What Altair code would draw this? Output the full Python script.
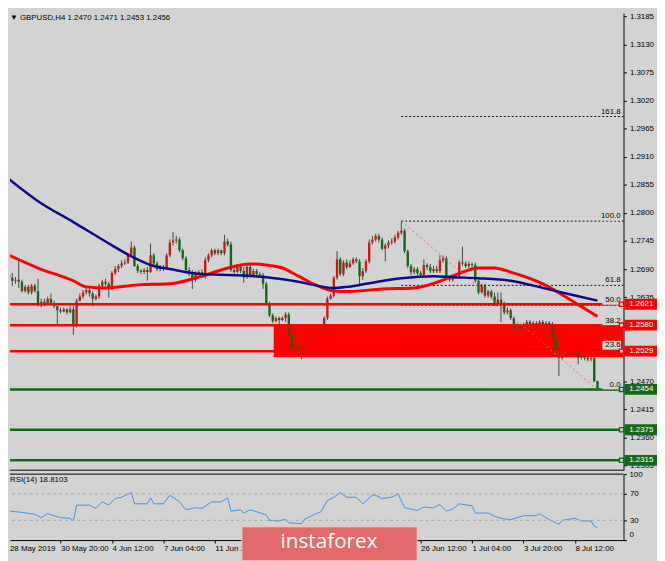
import altair as alt
import pandas as pd

# ---------------- data ----------------
opens = [
    1.2680, 1.2673, 1.2667, 1.2669, 1.2665, 1.2647, 1.2655, 1.2644, 1.2657, 1.2647,
    1.2619, 1.2626, 1.2621, 1.2632, 1.2622, 1.2617, 1.2609, 1.2607, 1.2611, 1.2605,
    1.2611, 1.2580, 1.2628, 1.2636, 1.2644, 1.2649, 1.2642, 1.2632, 1.2636, 1.2657,
    1.2665, 1.2661, 1.2653, 1.2682, 1.2690, 1.2696, 1.2701, 1.2703, 1.2717, 1.2732,
    1.2696, 1.2686, 1.2684, 1.2688, 1.2684, 1.2717, 1.2701, 1.2690, 1.2694, 1.2692,
    1.2717, 1.2742, 1.2746, 1.2748, 1.2727, 1.2711, 1.2688, 1.2682, 1.2669, 1.2682,
    1.2684, 1.2680, 1.2707, 1.2717, 1.2727, 1.2721, 1.2727, 1.2721, 1.2744, 1.2738,
    1.2688, 1.2684, 1.2694, 1.2686, 1.2674, 1.2694, 1.2676, 1.2686, 1.2680, 1.2678,
    1.2661, 1.2622, 1.2599, 1.2588, 1.2594, 1.2590, 1.2594, 1.2601, 1.2559, 1.2534,
    1.2540, 1.2534, 1.2524, 1.2528, 1.2549, 1.2557, 1.2563, 1.2565, 1.2568, 1.2594,
    1.2632, 1.2638, 1.2673, 1.2709, 1.2680, 1.2703, 1.2694, 1.2701, 1.2709, 1.2705,
    1.2676, 1.2686, 1.2705, 1.2742, 1.2748, 1.2755, 1.2748, 1.2730, 1.2736, 1.2742,
    1.2744, 1.2752, 1.2761, 1.2765, 1.2725, 1.2696, 1.2684, 1.2690, 1.2682, 1.2678,
    1.2698, 1.2694, 1.2686, 1.2690, 1.2686, 1.2707, 1.2711, 1.2674, 1.2669, 1.2674,
    1.2676, 1.2703, 1.2701, 1.2696, 1.2700, 1.2698, 1.2667, 1.2644, 1.2657, 1.2638,
    1.2646, 1.2636, 1.2621, 1.2630, 1.2622, 1.2605, 1.2609, 1.2594, 1.2572, 1.2578,
    1.2572, 1.2580, 1.2586, 1.2582, 1.2584, 1.2580, 1.2586, 1.2582, 1.2584, 1.2580,
    1.2555, 1.2524, 1.2516, 1.2524, 1.2528, 1.2524, 1.2532, 1.2528, 1.2516, 1.2520,
    1.2516, 1.2513, 1.2515, 1.2470,
]
highs = [
    1.2692, 1.2682, 1.2674, 1.2709, 1.2669, 1.2659, 1.2659, 1.2661, 1.2661, 1.2671,
    1.2632, 1.2632, 1.2636, 1.2642, 1.2628, 1.2622, 1.2615, 1.2615, 1.2613, 1.2617,
    1.2617, 1.2632, 1.2642, 1.2649, 1.2653, 1.2653, 1.2646, 1.2640, 1.2661, 1.2669,
    1.2671, 1.2665, 1.2686, 1.2696, 1.2700, 1.2707, 1.2709, 1.2721, 1.2744, 1.2736,
    1.2700, 1.2690, 1.2692, 1.2694, 1.2740, 1.2721, 1.2705, 1.2698, 1.2698, 1.2721,
    1.2748, 1.2763, 1.2755, 1.2752, 1.2730, 1.2715, 1.2694, 1.2688, 1.2686, 1.2688,
    1.2690, 1.2713, 1.2721, 1.2730, 1.2730, 1.2730, 1.2728, 1.2757, 1.2750, 1.2744,
    1.2694, 1.2698, 1.2698, 1.2694, 1.2698, 1.2700, 1.2690, 1.2690, 1.2684, 1.2682,
    1.2665, 1.2626, 1.2603, 1.2597, 1.2597, 1.2597, 1.2605, 1.2605, 1.2563, 1.2543,
    1.2543, 1.2540, 1.2536, 1.2553, 1.2561, 1.2567, 1.2568, 1.2572, 1.2597, 1.2636,
    1.2642, 1.2676, 1.2725, 1.2713, 1.2707, 1.2709, 1.2707, 1.2713, 1.2713, 1.2709,
    1.2692, 1.2709, 1.2748, 1.2755, 1.2759, 1.2759, 1.2752, 1.2740, 1.2746, 1.2750,
    1.2757, 1.2765, 1.2784, 1.2769, 1.2728, 1.2700, 1.2694, 1.2694, 1.2686, 1.2709,
    1.2701, 1.2700, 1.2696, 1.2696, 1.2717, 1.2717, 1.2715, 1.2678, 1.2680, 1.2682,
    1.2707, 1.2734, 1.2705, 1.2705, 1.2703, 1.2703, 1.2671, 1.2661, 1.2661, 1.2649,
    1.2649, 1.2644, 1.2644, 1.2644, 1.2626, 1.2615, 1.2613, 1.2597, 1.2584, 1.2582,
    1.2584, 1.2590, 1.2590, 1.2588, 1.2588, 1.2590, 1.2590, 1.2588, 1.2588, 1.2586,
    1.2559, 1.2530, 1.2528, 1.2532, 1.2534, 1.2538, 1.2538, 1.2534, 1.2524, 1.2522,
    1.2520, 1.2518, 1.2518, 1.2471,
]
lows = [
    1.2661, 1.2657, 1.2661, 1.2653, 1.2644, 1.2644, 1.2640, 1.2640, 1.2644, 1.2617,
    1.2615, 1.2617, 1.2619, 1.2619, 1.2613, 1.2580, 1.2603, 1.2605, 1.2601, 1.2603,
    1.2561, 1.2576, 1.2626, 1.2632, 1.2640, 1.2636, 1.2617, 1.2628, 1.2632, 1.2653,
    1.2657, 1.2634, 1.2649, 1.2678, 1.2684, 1.2692, 1.2698, 1.2700, 1.2713, 1.2694,
    1.2682, 1.2680, 1.2680, 1.2667, 1.2682, 1.2698, 1.2686, 1.2686, 1.2686, 1.2690,
    1.2713, 1.2736, 1.2740, 1.2723, 1.2707, 1.2684, 1.2676, 1.2651, 1.2665, 1.2678,
    1.2674, 1.2671, 1.2703, 1.2713, 1.2717, 1.2717, 1.2717, 1.2717, 1.2734, 1.2684,
    1.2680, 1.2682, 1.2682, 1.2663, 1.2671, 1.2673, 1.2673, 1.2674, 1.2674, 1.2651,
    1.2619, 1.2596, 1.2584, 1.2586, 1.2574, 1.2588, 1.2586, 1.2555, 1.2530, 1.2526,
    1.2530, 1.2513, 1.2520, 1.2522, 1.2545, 1.2553, 1.2557, 1.2559, 1.2565, 1.2590,
    1.2630, 1.2634, 1.2669, 1.2676, 1.2676, 1.2690, 1.2692, 1.2698, 1.2701, 1.2661,
    1.2669, 1.2682, 1.2701, 1.2738, 1.2744, 1.2742, 1.2727, 1.2705, 1.2730, 1.2738,
    1.2740, 1.2748, 1.2757, 1.2721, 1.2692, 1.2678, 1.2680, 1.2678, 1.2673, 1.2674,
    1.2688, 1.2682, 1.2682, 1.2682, 1.2682, 1.2703, 1.2671, 1.2665, 1.2665, 1.2671,
    1.2673, 1.2696, 1.2692, 1.2692, 1.2692, 1.2663, 1.2640, 1.2642, 1.2634, 1.2634,
    1.2632, 1.2617, 1.2617, 1.2586, 1.2601, 1.2601, 1.2590, 1.2555, 1.2568, 1.2567,
    1.2568, 1.2570, 1.2578, 1.2576, 1.2576, 1.2576, 1.2576, 1.2578, 1.2576, 1.2551,
    1.2520, 1.2480, 1.2513, 1.2518, 1.2520, 1.2520, 1.2522, 1.2503, 1.2513, 1.2511,
    1.2509, 1.2509, 1.2468, 1.2453,
]
closes = [
    1.2673, 1.2667, 1.2669, 1.2665, 1.2647, 1.2655, 1.2644, 1.2657, 1.2647, 1.2619,
    1.2626, 1.2621, 1.2632, 1.2622, 1.2617, 1.2609, 1.2607, 1.2611, 1.2605, 1.2611,
    1.2580, 1.2628, 1.2636, 1.2644, 1.2649, 1.2642, 1.2632, 1.2636, 1.2657, 1.2665,
    1.2661, 1.2653, 1.2682, 1.2690, 1.2696, 1.2701, 1.2703, 1.2717, 1.2732, 1.2696,
    1.2686, 1.2684, 1.2688, 1.2684, 1.2717, 1.2701, 1.2690, 1.2694, 1.2692, 1.2717,
    1.2742, 1.2746, 1.2748, 1.2727, 1.2711, 1.2688, 1.2682, 1.2669, 1.2682, 1.2684,
    1.2680, 1.2707, 1.2717, 1.2727, 1.2721, 1.2727, 1.2721, 1.2744, 1.2738, 1.2688,
    1.2684, 1.2694, 1.2686, 1.2674, 1.2694, 1.2676, 1.2686, 1.2680, 1.2678, 1.2661,
    1.2622, 1.2599, 1.2588, 1.2594, 1.2590, 1.2594, 1.2601, 1.2559, 1.2534, 1.2540,
    1.2534, 1.2524, 1.2528, 1.2549, 1.2557, 1.2563, 1.2565, 1.2568, 1.2594, 1.2632,
    1.2638, 1.2673, 1.2709, 1.2680, 1.2703, 1.2694, 1.2701, 1.2709, 1.2705, 1.2676,
    1.2686, 1.2705, 1.2742, 1.2748, 1.2755, 1.2748, 1.2730, 1.2736, 1.2742, 1.2744,
    1.2752, 1.2761, 1.2765, 1.2725, 1.2696, 1.2684, 1.2690, 1.2682, 1.2678, 1.2698,
    1.2694, 1.2686, 1.2690, 1.2686, 1.2707, 1.2711, 1.2674, 1.2669, 1.2674, 1.2676,
    1.2703, 1.2701, 1.2696, 1.2700, 1.2698, 1.2667, 1.2644, 1.2657, 1.2638, 1.2646,
    1.2636, 1.2621, 1.2630, 1.2622, 1.2605, 1.2609, 1.2594, 1.2572, 1.2578, 1.2572,
    1.2580, 1.2586, 1.2582, 1.2584, 1.2580, 1.2586, 1.2582, 1.2584, 1.2580, 1.2555,
    1.2524, 1.2516, 1.2524, 1.2528, 1.2524, 1.2532, 1.2528, 1.2516, 1.2520, 1.2516,
    1.2513, 1.2515, 1.2470, 1.2456,
]

blue_ma_idx = [0, 9, 20, 30, 38, 45, 50, 60, 70, 80, 90, 96, 101, 105, 111, 122,
               132, 138, 146, 156, 166, 176, 183]
blue_ma = [1.2866, 1.2823, 1.2782, 1.2744, 1.2715, 1.2696, 1.2690, 1.2680, 1.2678,
           1.2674, 1.2665, 1.2657, 1.2653, 1.2655, 1.2661, 1.2672, 1.2676, 1.2674,
           1.2672, 1.2667, 1.2653, 1.2638, 1.2628]

red_ma_idx = [0, 9, 20, 24, 30, 40, 50, 60, 68, 75, 80, 85, 90, 96, 101, 106, 116,
              126, 136, 141, 146, 151, 156, 166, 176, 183]
red_ma = [1.2717, 1.2692, 1.2667, 1.2655, 1.2653, 1.2659, 1.2661, 1.2676, 1.2692,
          1.2700, 1.2698, 1.2692, 1.2676, 1.2657, 1.2647, 1.2646, 1.2651, 1.2653,
          1.2671, 1.2684, 1.2692, 1.2692, 1.2684, 1.2661, 1.2624, 1.2597]

rsi_idx = [0, 4, 8, 10, 12, 16, 19, 20, 21, 25, 27, 29, 31, 33, 35, 38, 39, 43, 44,
           45, 48, 50, 53, 55, 58, 60, 63, 66, 68, 69, 72, 73, 75, 77, 80, 81, 84,
           86, 87, 91, 92, 95, 97, 99, 101, 103, 105, 108, 110, 113, 114, 116, 119,
           121, 123, 127, 129, 132, 134, 136, 138, 140, 144, 145, 149, 151, 154,
           156, 160, 164, 165, 168, 171, 172, 176, 178, 181, 182, 183]
rsi_vals = [44, 42, 39, 34, 40, 34, 33, 29, 53, 53, 48, 58, 53, 63, 65, 72, 55, 55,
            64, 55, 55, 68, 58, 46, 49, 48, 58, 58, 64, 44, 46, 41, 46, 43, 38, 30,
            29, 32, 26, 25, 32, 39, 43, 60, 65, 72, 65, 65, 55, 68, 68, 63, 65, 70,
            49, 45, 50, 49, 54, 44, 47, 55, 52, 41, 41, 36, 32, 31, 37, 37, 40, 31,
            24, 30, 33, 29, 29, 21, 18.81]
rsi_levels = [70, 30]

red_levels = [1.2621, 1.2580, 1.2529]
green_levels = [1.2454, 1.2375, 1.2315]

zone_start, zone_end = 82.3, 192
zone_top, zone_bottom = 1.2580, 1.2517

fib_names = ["0.0", "23.6", "38.2", "50.0", "61.8", "100.0", "161.8"]
fib_prices = [1.2453, 1.2531, 1.2579, 1.2619, 1.2658, 1.2784, 1.2989]
fib_start, fib_end = 122, 192
diag_from = (122, 1.2784)
diag_to = (183, 1.2453)

price_ticks = [1.3185, 1.3130, 1.3075, 1.3020, 1.2965, 1.2910, 1.2855, 1.2800,
               1.2745, 1.2690, 1.2635, 1.2580, 1.2525, 1.2470, 1.2415, 1.2360, 1.2305]
price_ticks_covered = [1.2580, 1.2525]          # hidden under the price boxes
rsi_ticks = [0, 30, 70, 100]
rsi_top_label, rsi_bottom_label = 100, 0
date_idx = [16, 32, 48, 64, 80, 96, 112, 128, 144, 160, 176]
date_labels = ["30 May 20:00", "4 Jun 12:00", "7 Jun 04:00", "11 Jun 20:00",
               "", "", "", "26 Jun 12:00",          # labels hidden behind the banner
               "1 Jul 04:00", "3 Jul 20:00", "8 Jul 12:00"]
first_date = "28 May 2019"
title_text = "\u25bc GBPUSD,H4  1.2470 1.2471 1.2453 1.2456"
rsi_title = "RSI(14) 18.8103"
banner_text = "instaforex"

# ---------------- style / layout ----------------
W, H = 623, 535
BG = "#d3d3d3"
RED = "#ff0000"
GREEN = "#12691a"
BULL = "#c81818"
BEAR = "#14641a"
WICK = "#474747"
BLUE = "#0b0b88"
RSI_C = "#3f90ea"
FONT = "Liberation Sans"

XS = alt.Scale(domain=[1.808, 189.57], nice=False, zero=False)
PS = alt.Scale(domain=[1.22957, 1.31915], range=[464, 0], nice=False, zero=False)
RS = alt.Scale(domain=[0, 100], range=[535, 468], nice=False, zero=False)

covered_expr = " || ".join(f"abs(datum.value - {v}) < 0.00001" for v in price_ticks_covered)
edge_expr = f"datum.value == {rsi_top_label} || datum.value == {rsi_bottom_label}"

X_AXIS = alt.Axis(values=date_idx,
                  labelExpr="[" + ",".join(f"'{s}'" for s in date_labels) + "][round(datum.value/16)-1]",
                  labelAlign="left", labelFont=FONT, labelFontSize=8, labelColor="#000000",
                  tickColor="#000000", tickSize=3, domainColor="#000000", domainWidth=1,
                  grid=False, labelPadding=2, labelOverlap=False, labelFlush=False,
                  labelBound=False, title=None)
P_AXIS = alt.Axis(orient="right", values=price_ticks, format=".4f",
                  labelExpr=f"({covered_expr}) ? '' : datum.label", labelFont=FONT,
                  labelFontSize=8, labelColor="#000000", tickColor="#000000", tickSize=3,
                  domainColor="#000000", domainWidth=1, grid=False, labelPadding=3,
                  labelOverlap=False, labelFlush=False, title=None)
R_AXIS = alt.Axis(orient="right", values=rsi_ticks, labelExpr=f"({edge_expr}) ? '' : datum.label",
                  labelFont=FONT, labelFontSize=8,
                  labelColor="#000000", tickColor="#000000", tickSize=3,
                  domainColor="#000000", domainWidth=1, grid=False, labelPadding=3,
                  labelFlush=False, labelOverlap=False, title=None)


def xq(f):
    return alt.X(f"{f}:Q", scale=XS, axis=X_AXIS, title=None)


def yp(f):
    return alt.Y(f"{f}:Q", scale=PS, axis=P_AXIS, title=None)


def yr(f):
    return alt.Y(f"{f}:Q", scale=RS, axis=R_AXIS, title=None)


candles = pd.DataFrame({"i": list(range(len(closes))), "o": opens, "h": highs,
                        "l": lows, "c": closes})
blue_df = pd.DataFrame({"i": blue_ma_idx, "m": blue_ma})
red_df = pd.DataFrame({"i": red_ma_idx, "m": red_ma})
rsi_df = pd.DataFrame({"i": rsi_idx, "r": rsi_vals})
rsi_lvl_df = pd.DataFrame({"r": rsi_levels})
rsi_top_df = pd.DataFrame({"r": [rsi_top_label], "t": [str(rsi_top_label)]})
rsi_bot_df = pd.DataFrame({"r": [rsi_bottom_label], "t": [str(rsi_bottom_label)]})
redl = pd.DataFrame({"p": red_levels, "t": [f"{v:.4f}" for v in red_levels]})
greenl = pd.DataFrame({"p": green_levels, "t": [f"{v:.4f}" for v in green_levels]})
zone_df = pd.DataFrame({"x0": [zone_start], "x1": [zone_end], "p0": [zone_top], "p1": [zone_bottom]})
fib_df = pd.DataFrame({"x0": [fib_start] * len(fib_prices), "x1": [fib_end] * len(fib_prices),
                       "p": fib_prices, "t": fib_names})
diag_df = pd.DataFrame({"x0": [diag_from[0]], "x1": [diag_to[0]], "p0": [diag_from[1]], "p1": [diag_to[1]]})
one = pd.DataFrame({"k": [0]})

# ---------------- price panel ----------------
wicks = alt.Chart(candles).mark_rule(color=WICK, strokeWidth=1, clip=True).encode(
    x=xq("i"), y=yp("l"), y2="h:Q")

zone = alt.Chart(zone_df).mark_rect(color=RED, clip=True).encode(
    x=xq("x0"), x2="x1", y=yp("p0"), y2="p1")

fib_lines = alt.Chart(fib_df).mark_rule(color="#111111", strokeWidth=1, strokeDash=[2, 2], clip=True).encode(
    x=xq("x0"), x2="x1", y=yp("p"))

bodies = alt.Chart(candles).mark_bar(width=2.4, clip=True).encode(
    x=xq("i"), y=yp("o"), y2="c:Q",
    color=alt.condition("datum.c < datum.o", alt.value(BEAR), alt.value(BULL)))

red_lines = alt.Chart(redl).mark_rule(color=RED, strokeWidth=2.5).encode(y=yp("p"))
green_lines = alt.Chart(greenl).mark_rule(color=GREEN, strokeWidth=2.5).encode(y=yp("p"))

ma_red = alt.Chart(red_df).mark_line(color=RED, strokeWidth=3, interpolate="monotone", clip=True).encode(
    x=xq("i"), y=yp("m"))
ma_blue = alt.Chart(blue_df).mark_line(color=BLUE, strokeWidth=2.5, interpolate="monotone", clip=True).encode(
    x=xq("i"), y=yp("m"))

diag = alt.Chart(diag_df).mark_rule(color="#ff5a5a", strokeWidth=1, strokeDash=[2, 3], clip=True).encode(
    x=xq("x0"), x2="x1", y=yp("p0"), y2="p1")

fib_boxes = alt.Chart(fib_df).mark_tick(orient="horizontal", color=BG, size=19, thickness=9,
                                        yOffset=-5, opacity=1).encode(
    x=alt.value(611), y=yp("p"))
fib_text = alt.Chart(fib_df).mark_text(align="right", baseline="bottom", dy=-1, font=FONT,
                                       fontSize=8, color="#000000").encode(
    x=alt.value(620), y=yp("p"), text="t:N")

red_sq = alt.Chart(redl).mark_square(size=18, filled=True, color=BG, stroke=RED, strokeWidth=1.4, opacity=1).encode(
    x=alt.value(621), y=yp("p"))
green_sq = alt.Chart(greenl).mark_square(size=18, filled=True, color=BG, stroke=GREEN, strokeWidth=1.4, opacity=1).encode(
    x=alt.value(621), y=yp("p"))

red_box = alt.Chart(redl).mark_tick(orient="horizontal", color=RED, size=33, thickness=11, opacity=1).encode(
    x=alt.value(640.5), y=yp("p"))
red_txt = alt.Chart(redl).mark_text(font=FONT, fontSize=8, color="#ffffff", baseline="middle").encode(
    x=alt.value(641), y=yp("p"), text="t:N")
green_box = alt.Chart(greenl).mark_tick(orient="horizontal", color=GREEN, size=33, thickness=11, opacity=1).encode(
    x=alt.value(640.5), y=yp("p"))
green_txt = alt.Chart(greenl).mark_text(font=FONT, fontSize=8, color="#ffffff", baseline="middle").encode(
    x=alt.value(641), y=yp("p"), text="t:N")

title = alt.Chart(one).mark_text(align="left", baseline="top", font=FONT, fontSize=8, color="#000000").encode(
    x=alt.value(0), y=alt.value(1), text=alt.value(title_text))

price_panel = alt.layer(wicks, zone, fib_lines, bodies, red_lines, green_lines, ma_red, ma_blue,
                        diag, fib_boxes, fib_text, red_sq, green_sq, red_box, red_txt,
                        green_box, green_txt, title)

# ---------------- RSI panel ----------------
rsi_line = alt.Chart(rsi_df).mark_line(color=RSI_C, strokeWidth=1, clip=True).encode(
    x=xq("i"), y=yr("r"))

rsi_lv = alt.Chart(rsi_lvl_df).mark_rule(color="#a9a9a9", strokeWidth=1, strokeDash=[3, 3]).encode(
    y=yr("r"))

rsi_top = alt.Chart(rsi_top_df).mark_text(align="left", baseline="middle", dy=1, font=FONT,
                                          fontSize=8, color="#000000").encode(
    x=alt.value(W + 6), y=yr("r"), text="t:N")
rsi_bot = alt.Chart(rsi_bot_df).mark_text(align="left", baseline="bottom", dy=-1, font=FONT,
                                          fontSize=8, color="#000000").encode(
    x=alt.value(W + 6), y=yr("r"), text="t:N")

frame_a = alt.Chart(one).mark_rule(color="#000000", strokeWidth=1).encode(
    x=alt.value(0), x2=alt.value(W), y=alt.value(464))
frame_b = alt.Chart(one).mark_rule(color="#000000", strokeWidth=1).encode(
    x=alt.value(0), x2=alt.value(W), y=alt.value(468))

rsi_lbl = alt.Chart(one).mark_text(align="left", baseline="top", font=FONT, fontSize=8, color="#000000").encode(
    x=alt.value(0), y=alt.value(470), text=alt.value(rsi_title))
first_lbl = alt.Chart(one).mark_text(align="left", baseline="top", font=FONT, fontSize=8, color="#000000").encode(
    x=alt.value(0), y=alt.value(540), text=alt.value(first_date))

banner = alt.Chart(one).mark_rect(fill="#e36a6a", stroke="#f3caca", strokeWidth=1).encode(
    x=alt.value(235.5), x2=alt.value(413.5), y=alt.value(521.5), y2=alt.value(556))
banner_txt = alt.Chart(one).mark_text(font="Open Sans", fontSize=21, color="#ffffff", baseline="middle").encode(
    x=alt.value(324), y=alt.value(537), text=alt.value(banner_text))

rsi_panel = alt.layer(rsi_line, rsi_lv, rsi_top, rsi_bot, frame_a, frame_b, rsi_lbl, first_lbl,
                      banner, banner_txt)

chart = alt.layer(price_panel, rsi_panel).resolve_scale(y="independent").properties(
    width=W, height=H, padding=0, background=BG
).configure_view(stroke=None)

chart.save("out.html", embed_options={"renderer": "svg", "actions": False})
